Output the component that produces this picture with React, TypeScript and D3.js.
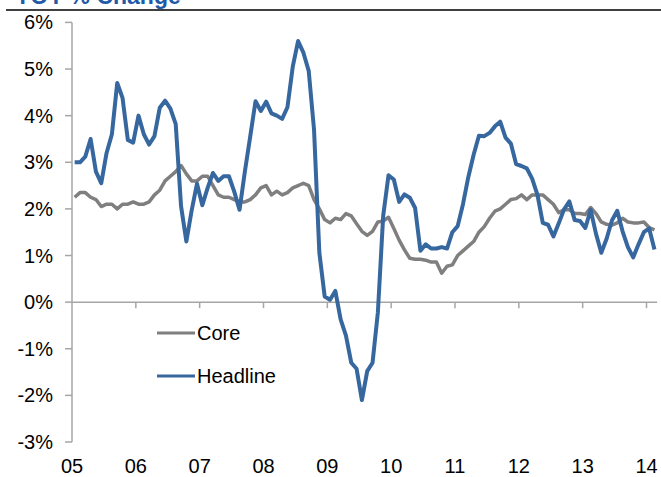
import React from 'react';
import { scaleLinear, line } from "d3";

// YoY % change, monthly, Jan 2005 .. Feb 2014
const core = [
  2.25, 2.35, 2.35, 2.25, 2.2, 2.05, 2.1, 2.1, 2.0, 2.1, 2.1, 2.15,
  2.1, 2.1, 2.15, 2.3, 2.4, 2.6, 2.7, 2.8, 2.93, 2.75, 2.6, 2.6,
  2.7, 2.7, 2.5, 2.3, 2.25, 2.25, 2.2, 2.15, 2.15, 2.2, 2.3, 2.45,
  2.5, 2.3, 2.38, 2.3, 2.35, 2.45, 2.5, 2.55, 2.5, 2.2, 2.0, 1.77,
  1.7, 1.8, 1.77, 1.9, 1.85, 1.68, 1.52, 1.43, 1.52, 1.72, 1.74, 1.82,
  1.58, 1.33, 1.12, 0.94, 0.92, 0.92, 0.9, 0.86, 0.86, 0.62, 0.77, 0.8,
  1.0, 1.1, 1.2, 1.3, 1.5, 1.62, 1.8, 1.95, 2.0, 2.1, 2.2, 2.22,
  2.3, 2.2, 2.3, 2.3, 2.3, 2.2, 2.1, 1.92, 1.98, 1.98, 1.9, 1.9,
  1.88, 2.03, 1.9, 1.72, 1.67, 1.65, 1.7, 1.8, 1.72, 1.7, 1.7, 1.72,
  1.6, 1.55
];

const headline = [
  3.0, 3.0, 3.12, 3.5, 2.8, 2.55, 3.2, 3.6, 4.7, 4.38, 3.48, 3.42,
  4.0, 3.6, 3.38, 3.56, 4.17, 4.32, 4.15, 3.82, 2.06, 1.3, 1.97, 2.54,
  2.08, 2.45, 2.77, 2.6, 2.7, 2.7, 2.37, 1.98, 2.8, 3.55, 4.31, 4.1,
  4.3, 4.05, 4.0, 3.93, 4.18, 5.05, 5.6, 5.35, 4.96, 3.7, 1.06, 0.12,
  0.05, 0.24, -0.37, -0.72, -1.3, -1.43, -2.1, -1.48, -1.3, -0.22, 1.85, 2.72,
  2.63, 2.15, 2.31, 2.24, 2.02, 1.1, 1.24, 1.15, 1.15, 1.18, 1.15, 1.5,
  1.63, 2.1, 2.68, 3.16, 3.57, 3.56, 3.63, 3.77, 3.87, 3.53, 3.4, 2.96,
  2.92, 2.87, 2.65, 2.3, 1.7, 1.66, 1.41, 1.69, 1.99, 2.16, 1.76, 1.74,
  1.59, 1.98, 1.47, 1.06, 1.36, 1.75, 1.96, 1.52, 1.18, 0.96, 1.24, 1.5,
  1.58, 1.13
];

const yearLabels = ["05", "06", "07", "08", "09", "10", "11", "12", "13", "14"];
const yTicks = [-3, -2, -1, 0, 1, 2, 3, 4, 5, 6];

const series = [
  { name: "Core", values: core, color: "#7f7f7f", width: 3.5 },
  { name: "Headline", values: headline, color: "#37679f", width: 4 },
];

const W = 661;
const H = 477;
const font = "'Liberation Sans', Arial, sans-serif";

const App = () => {
  // months since Jan 2005 -> px
  const xScale = scaleLinear().domain([0, 108]).range([72, 646.5]);
  const yScale = scaleLinear().domain([-3, 6]).range([442, 22.4]);

  const path = line<number>()
    .x((d, i) => xScale(i + 0.5))
    .y(d => yScale(d));

  const axisColor = "#a6a6a6";
  const y0 = yScale(0);

  return (
    <svg width={W} height={H} style={{ position: "absolute", left: 0, top: 0 }} fontFamily={font}>
      {/* title, cut off by the top edge like the source */}
      <text x={15} y={4} fontSize={23} fontWeight="bold" fill="#1f5aa8">YOY % Change</text>
      <line x1={6} x2={W} y1={10} y2={10} stroke="#000" strokeWidth={1.5} />

      {/* y axis */}
      <line x1={xScale(0)} x2={xScale(0)} y1={yScale(6)} y2={yScale(-3)} stroke={axisColor} strokeWidth={1.5} />
      {yTicks.map(t => (
        <g key={t}>
          <line x1={65} x2={xScale(0)} y1={yScale(t)} y2={yScale(t)} stroke={axisColor} strokeWidth={1.5} />
          <text x={53} y={yScale(t)} dy="0.35em" textAnchor="end" fontSize={20}>{t}%</text>
        </g>
      ))}

      {/* x axis on the zero line */}
      <line x1={xScale(0)} x2={xScale(110)} y1={y0} y2={y0} stroke={axisColor} strokeWidth={1.5} />
      {yearLabels.map((lab, i) => (
        <g key={lab}>
          {i > 0 && <line x1={xScale(i * 12)} x2={xScale(i * 12)} y1={y0} y2={y0 + 6} stroke={axisColor} strokeWidth={1.5} />}
          <text x={xScale(i * 12)} y={473} textAnchor="middle" fontSize={20}>{lab}</text>
        </g>
      ))}

      {series.map(s => (
        <path key={s.name} d={path(s.values) || ""} fill="none" stroke={s.color}
          strokeWidth={s.width} strokeLinejoin="round" />
      ))}

      {/* legend */}
      {series.map((s, i) => (
        <g key={s.name} transform={`translate(157, ${333 + i * 43})`}>
          <line x1={0} x2={38} y1={0} y2={0} stroke={s.color} strokeWidth={3} />
          <text x={40} y={0} dy="0.35em" fontSize={20}>{s.name}</text>
        </g>
      ))}
    </svg>
  );
};

export default App;
